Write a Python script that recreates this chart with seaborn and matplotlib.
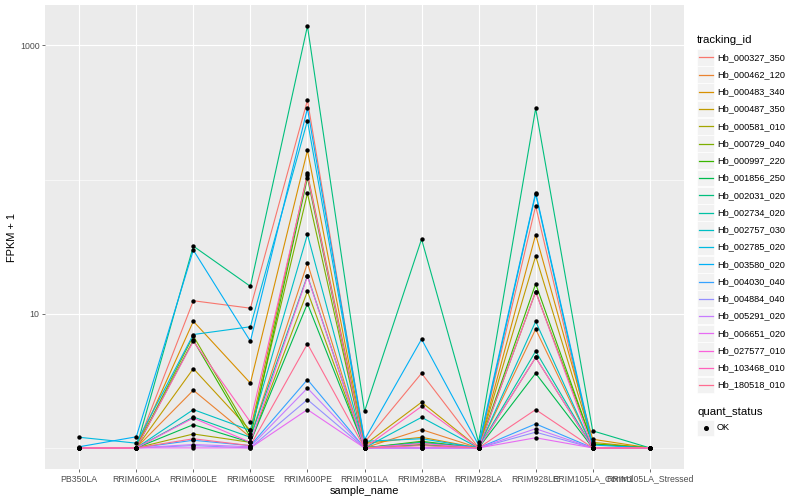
import pandas as pd
import numpy as np
import matplotlib.pyplot as plt
import seaborn as sns
from matplotlib.lines import Line2D
from matplotlib.patches import Rectangle
from matplotlib.ticker import FixedLocator, NullFormatter

plt.rcParams['font.family'] = ['Liberation Sans', 'DejaVu Sans']

# Samples on the x axis
samples = ["PB350LA", "RRIM600LA", "RRIM600LE", "RRIM600SE", "RRIM600PE",
           "RRIM901LA", "RRIM928BA", "RRIM928LA", "RRIM928LE",
           "RRIM105LA_Control", "RRIM105LA_Stressed"]

tracking_ids = ["Hb_000327_350", "Hb_000462_120", "Hb_000483_340", "Hb_000487_350",
                "Hb_000581_010", "Hb_000729_040", "Hb_000997_220", "Hb_001856_250",
                "Hb_002031_020", "Hb_002734_020", "Hb_002757_030", "Hb_002785_020",
                "Hb_003580_020", "Hb_004030_040", "Hb_004884_040", "Hb_005291_020",
                "Hb_006651_020", "Hb_027577_010", "Hb_103468_010", "Hb_180518_010"]

# ggplot hue palette for 20 levels
colors = ["#F8766D", "#EA8331", "#D89000", "#C09B00", "#A3A500", "#7CAE00",
          "#39B600", "#00BB4E", "#00BF7D", "#00C1A3", "#00BFC4", "#00BAE0",
          "#00B0F6", "#35A2FF", "#9590FF", "#C77CFF", "#E76BF3", "#FA62DB",
          "#FF62BC", "#FF6C91"]

# FPKM + 1 per gene (one value per sample)
hb_000327_350 = [1.0, 1.0, 12.5, 11.0, 390, 1.1, 3.6, 1.0, 63.5, 1.0, 1.0]
hb_000462_120 = [1.0, 1.0, 2.69, 1.2, 23.9, 1.0, 1.37, 1.0, 7.67, 1.0, 1.0]
hb_000483_340 = [1.0, 1.0, 8.79, 3.04, 165, 1.08, 1.2, 1.0, 38.9, 1.16, 1.0]
hb_000487_350 = [1.0, 1.0, 3.9, 1.35, 111, 1.05, 2.19, 1.0, 26.9, 1.1, 1.0]
hb_000581_010 = [1.0, 1.0, 1.27, 1.1, 14.7, 1.0, 1.06, 1.0, 4.72, 1.0, 1.0]
hb_000729_040 = [1.0, 1.0, 6.83, 1.28, 79, 1.0, 1.1, 1.0, 14.6, 1.07, 1.0]
hb_000997_220 = [1.0, 1.0, 6.34, 1.2, 103, 1.0, 1.12, 1.0, 16.7, 1.07, 1.0]
hb_001856_250 = [1.0, 1.0, 1.49, 1.1, 11.9, 1.0, 1.05, 1.0, 3.6, 1.0, 1.0]
hb_002031_020 = [1.0, 1.0, 31.9, 16.0, 1393, 1.87, 36, 1.1, 339, 1.34, 1.0]
hb_002734_020 = [1.0, 1.0, 1.7, 1.2, 19.2, 1.0, 1.1, 1.0, 5.26, 1.0, 1.0]
hb_002757_030 = [1.0, 1.0, 1.93, 1.35, 39, 1.0, 1.69, 1.0, 8.76, 1.0, 1.0]
hb_002785_020 = [1.2, 1.085, 7.0, 8.0, 275, 1.12, 1.17, 1.0, 78, 1.0, 1.0]
hb_003580_020 = [1.02, 1.21, 29.8, 6.23, 339, 1.15, 6.46, 1.05, 80, 1.05, 1.0]
hb_004030_040 = [1.0, 1.0, 1.14, 1.04, 3.23, 1.0, 1.0, 1.0, 1.51, 1.0, 1.0]
hb_004884_040 = [1.0, 1.0, 1.04, 1.0, 2.29, 1.0, 1.0, 1.0, 1.31, 1.0, 1.0]
hb_005291_020 = [1.0, 1.0, 1.06, 1.02, 2.79, 1.0, 1.0, 1.0, 1.39, 1.0, 1.0]
hb_006651_020 = [1.0, 1.0, 1.0, 1.0, 1.93, 1.0, 1.0, 1.0, 1.19, 1.0, 1.0]
hb_027577_010 = [1.0, 1.0, 1.67, 1.1, 19, 1.0, 1.08, 1.0, 4.72, 1.0, 1.0]
hb_103468_010 = [1.0, 1.0, 6.23, 1.56, 108, 1.0, 2.04, 1.0, 14.6, 1.0, 1.0]
hb_180518_010 = [1.0, 1.0, 1.17, 1.04, 5.97, 1.0, 1.04, 1.0, 1.93, 1.0, 1.0]

series = [hb_000327_350, hb_000462_120, hb_000483_340, hb_000487_350,
          hb_000581_010, hb_000729_040, hb_000997_220, hb_001856_250,
          hb_002031_020, hb_002734_020, hb_002757_030, hb_002785_020,
          hb_003580_020, hb_004030_040, hb_004884_040, hb_005291_020,
          hb_006651_020, hb_027577_010, hb_103468_010, hb_180518_010]

# Long table for seaborn
rows = []
for tid, vals in zip(tracking_ids, series):
    for s, v in zip(samples, vals):
        rows.append({"tracking_id": tid, "sample_name": s, "fpkm": v, "quant_status": "OK"})
df = pd.DataFrame(rows)

W, H = 800, 500
fig = plt.figure(figsize=(8, 5), dpi=100)
ax = fig.add_axes([45 / W, 31 / H, 639 / W, 464 / H])
ax.set_facecolor("#EBEBEB")

palette = dict(zip(tracking_ids, colors))
sns.lineplot(data=df, x="sample_name", y="fpkm", hue="tracking_id",
             hue_order=tracking_ids, palette=palette, sort=False,
             estimator=None, legend=False, linewidth=0.8, ax=ax)
sns.scatterplot(data=df, x="sample_name", y="fpkm", color="black", s=10,
                linewidth=0, legend=False, ax=ax, zorder=3)

ax.set_yscale("log")
lo, hi = np.log10(df["fpkm"].min()), np.log10(df["fpkm"].max())
pad = 0.05 * (hi - lo)
ax.set_ylim(10 ** (lo - pad), 10 ** (hi + pad))
ax.set_xlim(-0.6, len(samples) - 0.4)

ax.yaxis.set_major_locator(FixedLocator([10, 1000]))
ax.set_yticklabels(["10", "1000"])
ax.yaxis.set_minor_locator(FixedLocator([1, 100]))
ax.yaxis.set_minor_formatter(NullFormatter())

ax.grid(which="major", color="white", linewidth=0.8)
ax.grid(which="minor", axis="y", color="white", linewidth=0.4)
ax.set_axisbelow(True)
for sp in ax.spines.values():
    sp.set_visible(False)

ax.tick_params(which="major", length=2, width=0.5, color="#333333",
               labelcolor="#4D4D4D", labelsize=6.3, pad=2)
ax.tick_params(which="minor", length=0)

ax.set_xlabel("sample_name", fontsize=7.9, labelpad=2)
ax.set_ylabel("FPKM + 1", fontsize=7.9, labelpad=2)


# Legends drawn in pixel positions, ggplot style
def fx(px):
    return px / W


def fy(py):
    return 1 - py / H


fig.text(fx(697), fy(40), "tracking_id", fontsize=8.2, va="center", ha="left")
for i, (tid, col) in enumerate(zip(tracking_ids, colors)):
    yc = 57.3 + i * 17.25
    fig.add_artist(Rectangle((fx(697), fy(yc + 8.4)), 17 / W, 16.8 / H,
                             transform=fig.transFigure, facecolor="#F2F2F2",
                             edgecolor="white", linewidth=0.5))
    fig.add_artist(Line2D([fx(698.5), fx(712.5)], [fy(yc), fy(yc)],
                          transform=fig.transFigure, color=col, linewidth=0.9))
    fig.text(fx(717), fy(yc), tid, fontsize=6.6, va="center", ha="left")

fig.text(fx(697), fy(412), "quant_status", fontsize=8.2, va="center", ha="left")
fig.add_artist(Rectangle((fx(697), fy(428 + 8.4)), 17 / W, 16.8 / H,
                         transform=fig.transFigure, facecolor="#F2F2F2",
                         edgecolor="white", linewidth=0.5))
fig.add_artist(Line2D([fx(705.5)], [fy(428)], transform=fig.transFigure,
                      marker="o", markersize=2.6, color="black", linestyle="none"))
fig.text(fx(717), fy(428), "OK", fontsize=6.6, va="center", ha="left")

fig.savefig("out.png", dpi=100)
